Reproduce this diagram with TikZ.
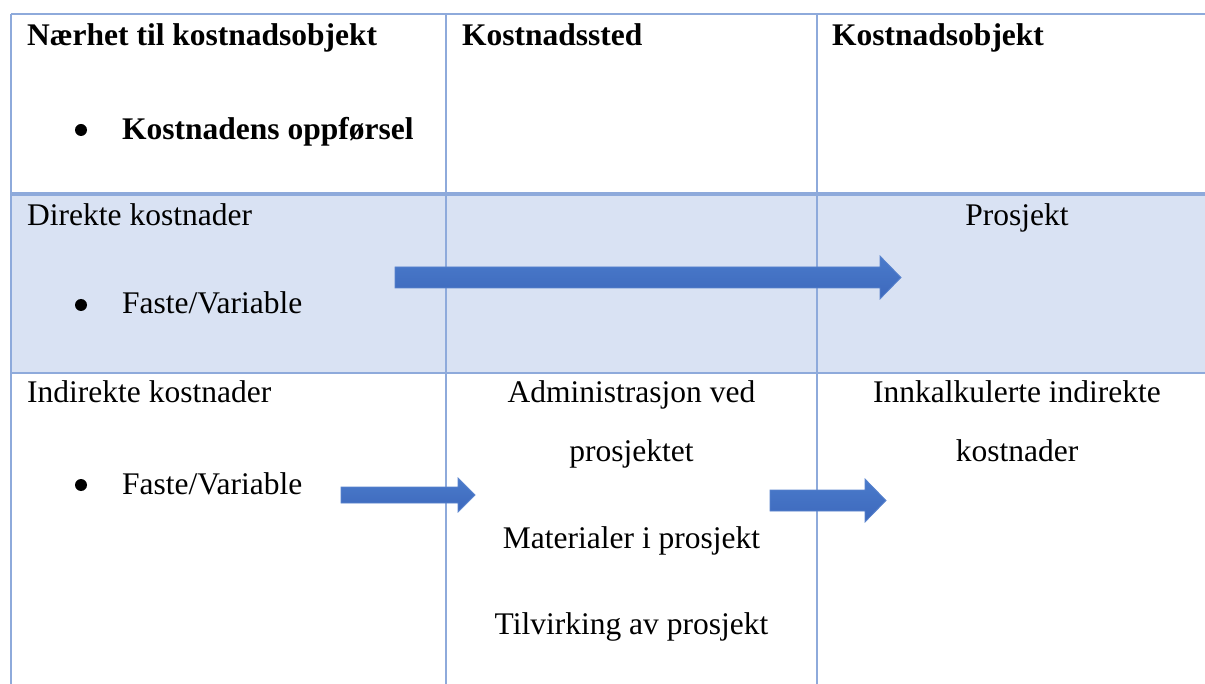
\documentclass[tikz,border=0pt]{standalone}
\usepackage{fontspec}
\setmainfont{Liberation Serif}
\definecolor{gridline}{HTML}{8EAADB}
\definecolor{rowshade}{HTML}{D9E2F3}
\definecolor{arrowtop}{HTML}{4A7BCB}
\definecolor{arrowbot}{HTML}{3D68BC}
\definecolor{arrowedge}{HTML}{5A84CE}
\tikzset{
  cell/.style={inner sep=0pt, font=\fontsize{31.5}{36}\selectfont},
  lefttext/.style={cell, anchor=base west},
  midtext/.style={cell, anchor=base},
  bulletdot/.style={fill=black, draw=none},
  rule/.style={draw=gridline, line width=1.6pt},
  thickrule/.style={draw=gridline, line width=3.5pt},
  blockarrow/.style={top color=arrowtop, bottom color=arrowbot, draw=arrowedge, line width=0.8pt, line join=miter}
}
\begin{document}
\begin{tikzpicture}[x=1pt, y=-1pt]
\useasboundingbox (0,0) rectangle (1205,684);
\fill[white] (0,0) rectangle (1205,684);

% shaded row of direct costs
\fill[rowshade] (11,194) rectangle (1205,373);

% table rules
\draw[rule] (11,14) -- (1205,14);
\draw[thickrule] (11,194) -- (1205,194);
\draw[rule] (11,373) -- (1205,373);
\draw[rule] (11,14) -- (11,684);
\draw[rule] (446,14) -- (446,684);
\draw[rule] (817,14) -- (817,684);

% header row
\node[lefttext, font=\fontsize{31.5}{36}\selectfont\bfseries] (h1) at (27,46) {Nærhet til kostnadsobjekt};
\fill[bulletdot] (81,130) circle (6);
\node[lefttext, font=\fontsize{31.5}{36}\selectfont\bfseries] (h1b) at (122,140) {Kostnadens oppførsel};
\node[lefttext, font=\fontsize{31.5}{36}\selectfont\bfseries] (h2) at (462,46) {Kostnadssted};
\node[lefttext, font=\fontsize{31.5}{36}\selectfont\bfseries] (h3) at (832,46) {Kostnadsobjekt};

% direct costs row
\node[lefttext] (d1) at (27,226) {Direkte kostnader};
\fill[bulletdot] (81,305) circle (6);
\node[lefttext] (d1b) at (122,314) {Faste/Variable};
\node[midtext] (d3) at (1017,226) {Prosjekt};

% indirect costs row
\node[lefttext] (i1) at (27,403) {Indirekte kostnader};
\fill[bulletdot] (81,485) circle (6);
\node[lefttext] (i1b) at (122,494) {Faste/Variable};
\node[midtext] (i2a) at (631.5,403) {Administrasjon ved};
\node[midtext] (i2b) at (631.5,461) {prosjektet};
\node[midtext] (i2c) at (631.5,548) {Materialer i prosjekt};
\node[midtext] (i2d) at (631.5,634) {Tilvirking av prosjekt};
\node[midtext] (i3a) at (1017,403) {Innkalkulerte indirekte};
\node[midtext] (i3b) at (1017,461) {kostnader};

% block arrows
\path[blockarrow] (395,267) -- (880,267) -- (880,256) -- (901,277.5) -- (880,299) -- (880,288) -- (395,288) -- cycle;
\path[blockarrow] (341,487) -- (458,487) -- (458,478) -- (475,495) -- (458,512) -- (458,503) -- (341,503) -- cycle;
\path[blockarrow] (770,490) -- (865,490) -- (865,479) -- (886,500.5) -- (865,522) -- (865,511) -- (770,511) -- cycle;
\end{tikzpicture}
\end{document}
